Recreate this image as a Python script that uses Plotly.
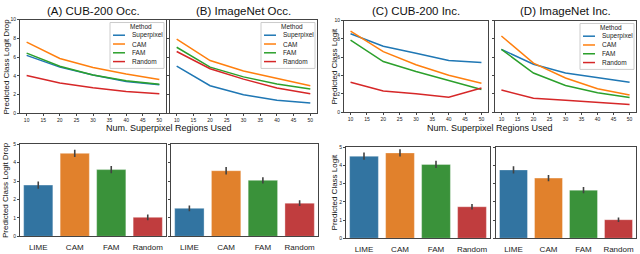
import plotly.graph_objects as go

W, H = 640, 254

# ---------------- data ----------------
num_regions = [10, 20, 30, 40, 50]
methods = ["Superpixel", "CAM", "FAM", "Random"]

# (A) CUB-200 Occ. - Predicted class logit drop
a_superpixel = [6.18, 4.93, 4.10, 3.40, 3.05]
a_cam = [7.60, 5.85, 4.90, 4.20, 3.62]
a_fam = [6.42, 5.03, 4.10, 3.47, 3.10]
a_random = [4.03, 3.23, 2.72, 2.33, 2.08]

# (B) ImageNet Occ.
b_superpixel = [5.03, 2.95, 1.98, 1.39, 1.11]
b_cam = [7.92, 5.63, 4.51, 3.75, 2.95]
b_fam = [7.05, 4.93, 3.89, 3.13, 2.60]
b_random = [6.60, 4.76, 3.65, 2.70, 2.08]

# (C) CUB-200 Inc. - Predicted class logit
c_superpixel = [8.57, 7.21, 6.43, 5.64, 5.43]
c_cam = [8.86, 6.61, 5.18, 4.04, 3.18]
c_fam = [7.86, 5.54, 4.46, 3.50, 2.50]
c_random = [3.29, 2.32, 2.04, 1.64, 2.65]

# (D) ImageNet Inc.
d_superpixel = [6.86, 5.25, 4.29, 3.75, 3.29]
d_cam = [8.32, 5.36, 3.75, 2.57, 1.89]
d_fam = [6.86, 4.29, 2.93, 2.14, 1.61]
d_random = [2.43, 1.54, 1.32, 1.07, 0.86]

bar_methods = ["LIME", "CAM", "FAM", "Random"]
a_bar = [2.78, 4.50, 3.62, 1.03]
a_bar_err = [0.20, 0.20, 0.20, 0.15]
b_bar = [1.52, 3.56, 3.04, 1.80]
b_bar_err = [0.16, 0.20, 0.17, 0.16]
c_bar = [4.50, 4.68, 4.05, 1.73]
c_bar_err = [0.20, 0.20, 0.20, 0.15]
d_bar = [3.75, 3.30, 2.64, 1.02]
d_bar_err = [0.20, 0.17, 0.17, 0.12]

titles = ["(A) CUB-200 Occ.", "(B) ImageNet Occ.", "(C) CUB-200 Inc.", "(D) ImageNet Inc."]
x_label = "Num. Superpixel Regions Used"
y_label_drop = "Predicted Class Logit Drop"
y_label_logit = "Predicted Class Logit"

line_colors = ["#1f77b4", "#ff7f0e", "#2ca02c", "#d62728"]
bar_colors = ["#3274a1", "#e1812c", "#3a923a", "#c03d3e"]

FONT = "Liberation Sans, DejaVu Sans"

# ---------------- layout helpers ----------------
def px(x):
    return x / W

def py(y):
    return 1 - y / H

top_x = [(20, 166), (170, 317), (344, 488), (495, 636)]
top_y = [(17, 113), (17, 113), (18, 112), (18, 112)]
bot_x = [(20, 166), (171, 318), (346, 490), (496, 636)]
bot_y = [(144, 239), (144, 239), (147, 241), (147, 241)]

fig = go.Figure()

line_sets = [
    [a_superpixel, a_cam, a_fam, a_random],
    [b_superpixel, b_cam, b_fam, b_random],
    [c_superpixel, c_cam, c_fam, c_random],
    [d_superpixel, d_cam, d_fam, d_random],
]
for p, series in enumerate(line_sets):
    ax = "" if p == 0 else str(p + 1)
    for s, vals in enumerate(series):
        fig.add_trace(go.Scatter(
            x=num_regions, y=vals, mode="lines",
            line=dict(color=line_colors[s], width=1.5),
            name=methods[s], showlegend=False,
            xaxis="x" + ax, yaxis="y" + ax,
        ))

bar_sets = [(a_bar, a_bar_err), (b_bar, b_bar_err), (c_bar, c_bar_err), (d_bar, d_bar_err)]
for p, (vals, errs) in enumerate(bar_sets):
    ax = str(p + 5)
    fig.add_trace(go.Bar(
        x=bar_methods, y=vals,
        marker=dict(color=bar_colors, line=dict(color="rgba(255,255,255,0.35)", width=1)),
        error_y=dict(type="data", array=errs, color="#424242", thickness=1.6, width=0),
        showlegend=False, xaxis="x" + ax, yaxis="y" + ax,
    ))

axis_common = dict(
    showline=True, mirror=True, linecolor="#444", linewidth=1,
    showgrid=False, zeroline=False, ticks="outside", ticklen=2,
    tickcolor="#444", tickfont=dict(family=FONT, size=5, color="#222"),
)

layout = dict(
    width=W, height=H, margin=dict(l=0, r=0, t=0, b=0),
    paper_bgcolor="white", plot_bgcolor="white", showlegend=False,
    bargap=0.2, font=dict(family=FONT, color="#222"),
)

for p in range(4):
    i = p + 1
    xk = "xaxis" if i == 1 else f"xaxis{i}"
    yk = "yaxis" if i == 1 else f"yaxis{i}"
    ax = "" if i == 1 else str(i)
    layout[xk] = dict(axis_common, domain=[px(top_x[p][0]), px(top_x[p][1])],
                      anchor="y" + ax, range=[8, 52], tickvals=[10, 15, 20, 25, 30, 35, 40, 45, 50])
    layout[yk] = dict(axis_common, domain=[py(top_y[p][1]), py(top_y[p][0])],
                      anchor="x" + ax, range=[0, 10], dtick=2,
                      showticklabels=(p in (0, 2)))

for p in range(4):
    i = p + 5
    layout[f"xaxis{i}"] = dict(axis_common, domain=[px(bot_x[p][0]), px(bot_x[p][1])],
                               anchor=f"y{i}", type="category", range=[-0.5, 3.5],
                               ticks="", ticklabelstandoff=3,
                               tickfont=dict(family=FONT, size=8, color="#222"))
    layout[f"yaxis{i}"] = dict(axis_common, domain=[py(bot_y[p][1]), py(bot_y[p][0])],
                               anchor=f"x{i}", range=[0, 5.03], dtick=1,
                               showticklabels=(p in (0, 2)))

annotations = []
shapes = []
# titles
for p in range(4):
    cx = (top_x[p][0] + top_x[p][1]) / 2
    annotations.append(dict(text=titles[p], x=px(cx), y=py(8), xref="paper", yref="paper",
                            showarrow=False, xanchor="center", yanchor="middle",
                            font=dict(family=FONT, size=11.5, color="#111")))
# x labels
for cx in [(top_x[0][0] + top_x[1][1]) / 2, (top_x[2][0] + top_x[3][1]) / 2]:
    annotations.append(dict(text=x_label, x=px(cx), y=py(128), xref="paper", yref="paper",
                            showarrow=False, xanchor="center", yanchor="middle",
                            font=dict(family=FONT, size=9, color="#111")))
# y labels
ylabels = [
    (y_label_drop, 6, (top_y[0][0] + top_y[0][1]) / 2),
    (y_label_drop, 6, (bot_y[0][0] + bot_y[0][1]) / 2),
    (y_label_logit, 334, (top_y[2][0] + top_y[2][1]) / 2),
    (y_label_logit, 334, (bot_y[2][0] + bot_y[2][1]) / 2),
]
for txt, x, y in ylabels:
    annotations.append(dict(text=txt, x=px(x), y=py(y), xref="paper", yref="paper",
                            showarrow=False, textangle=-90, xanchor="center", yanchor="middle",
                            font=dict(family=FONT, size=8, color="#111")))

# legends (A, B, D)
for p in (0, 1, 3):
    right = top_x[p][1] - 2
    left = right - 54
    top = top_y[p][0] + 3
    bottom = top + 47
    shapes.append(dict(type="rect", xref="paper", yref="paper",
                       x0=px(left), x1=px(right), y0=py(bottom), y1=py(top),
                       line=dict(color="#cccccc", width=1), fillcolor="rgba(255,255,255,0.85)"))
    annotations.append(dict(text="Method", x=px((left + right) / 2 + 4), y=py(top + 4.5),
                            xref="paper", yref="paper", showarrow=False,
                            xanchor="center", yanchor="middle",
                            font=dict(family=FONT, size=6.5, color="#222")))
    for s in range(4):
        yy = top + 13 + s * 9
        shapes.append(dict(type="line", xref="paper", yref="paper",
                           x0=px(left + 3), x1=px(left + 15), y0=py(yy), y1=py(yy),
                           line=dict(color=line_colors[s], width=1.5)))
        annotations.append(dict(text=methods[s], x=px(left + 20), y=py(yy),
                                xref="paper", yref="paper", showarrow=False,
                                xanchor="left", yanchor="middle",
                                font=dict(family=FONT, size=6.5, color="#222")))

layout["annotations"] = annotations
layout["shapes"] = shapes
fig.update_layout(**layout)
fig.write_html("out.html", config={"displayModeBar": False},
               post_script="document.body.style.margin='0';document.body.style.overflow='hidden';")
